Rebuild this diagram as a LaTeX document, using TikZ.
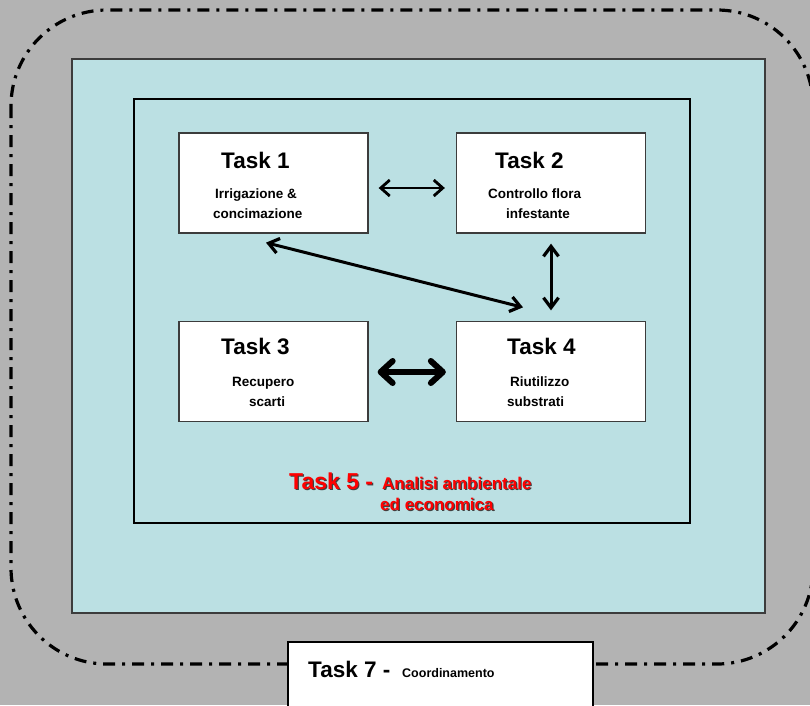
\documentclass[tikz,border=0pt]{standalone}
\usepackage{fontspec}
\setmainfont{Liberation Sans}
\usetikzlibrary{arrows.meta,calc}
\definecolor{bggray}{RGB}{179,179,179}
\definecolor{cyanfill}{RGB}{187,224,227}
\definecolor{edgegray}{RGB}{60,60,60}
\definecolor{taskred}{RGB}{255,0,0}
\newcommand\shtxt[1]{\rlap{\hspace{1.2pt}\raisebox{-1.2pt}{\textcolor{black!75}{#1}}}\textcolor{taskred}{#1}}
\begin{document}
\begin{tikzpicture}[x=1pt,y=-1pt,
  taskbox/.style={draw=edgegray,line width=1.3pt,fill=white,minimum width=189pt,minimum height=100pt,inner sep=0pt},
  ttl/.style={anchor=base west,inner sep=0pt,font=\bfseries\fontsize{22.5}{26}\selectfont},
  sub/.style={anchor=base west,inner sep=0pt,font=\bfseries\fontsize{13.5}{16}\selectfont},
  redbig/.style={anchor=base west,inner sep=0pt,font=\bfseries\fontsize{23}{26}\selectfont},
  redsmall/.style={anchor=base west,inner sep=0pt,font=\bfseries\fontsize{17}{20}\selectfont},
  thinarr/.style={line width=2.2pt,{Straight Barb[length=9pt,width=16pt,line width=2.8pt]}-{Straight Barb[length=9pt,width=16pt,line width=2.8pt]}},
  medarr/.style={line width=3pt,{Straight Barb[length=10pt,width=15pt,line width=3.2pt]}-{Straight Barb[length=10pt,width=15pt,line width=3.2pt]}},
  fatarr/.style={line width=6pt,{Straight Barb[length=12pt,width=22pt,round]}-{Straight Barb[length=12pt,width=22pt,round]}},
  dashdot/.style={line width=3.2pt,dash pattern=on 12pt off 7pt on 3pt off 7pt}
]
\useasboundingbox (0,0) rectangle (810,705);
\fill[bggray] (0,0) rectangle (810,705);
\begin{scope}
\clip (0,0) rectangle (810,705);
% outer dash-dot rounded frame
\draw[dashdot,rounded corners=96pt] (11,10) rectangle (813,664);
% cyan panel
\draw[draw=edgegray,line width=1.8pt,fill=cyanfill] (72,59) rectangle (765,613);
% inner frame
\draw[black,line width=1.3pt] (134,99) rectangle (690,523);

% task boxes
\node[taskbox] (t1) at (273.5,183) {};
\node[taskbox] (t2) at (551,183) {};
\node[taskbox] (t3) at (273.5,371.5) {};
\node[taskbox] (t4) at (551,371.5) {};

\node[ttl] (t1a) at (221,168) {Task 1};
\node[sub] (t1b) at (215,198) {Irrigazione \&};
\node[sub] (t1c) at (213,218) {concimazione};

\node[ttl] (t2a) at (495,168) {Task 2};
\node[sub] (t2b) at (488,198) {Controllo flora};
\node[sub] (t2c) at (506,218) {infestante};

\node[ttl] (t3a) at (221,354) {Task 3};
\node[sub] (t3b) at (232,386) {Recupero};
\node[sub] (t3c) at (249,406.5) {scarti};

\node[ttl] (t4a) at (507,354) {Task 4};
\node[sub] (t4b) at (510,386) {Riutilizzo};
\node[sub] (t4c) at (507,406.5) {substrati};

% connectors
\draw[thinarr] ($(t1.east)+(10,5)$) -- ($(t2.west)+(-11,5)$);
\draw[medarr] ($(t1.south)+(-7.5,9)$) -- ($(t4.north)+(-28,-13.5)$);
\draw[medarr] ($(t2.south)+(0,10)$) -- ($(t4.north)+(0,-10.5)$);
\draw[fatarr] ($(t3.east)+(9,0.5)$) -- ($(t4.west)+(-10,0.5)$);

% Task 5 label with shadow
\node[redbig] (t5a) at (289,489) {\shtxt{Task 5 -}};
\node[redsmall] (t5b) at (382,489) {\shtxt{Analisi ambientale}};
\node[redsmall] (t5c) at (380,510) {\shtxt{ed economica}};

% Task 7 box
\draw[black,line width=1.3pt,fill=white] (288,642) rectangle (593,712);
\node[ttl] (t7a) at (308,677) {Task 7 -};
\node[anchor=base west,inner sep=0pt,font=\bfseries\fontsize{12.5}{15}\selectfont] (t7b) at (402,677) {Coordinamento};
\end{scope}
\end{tikzpicture}
\end{document}
